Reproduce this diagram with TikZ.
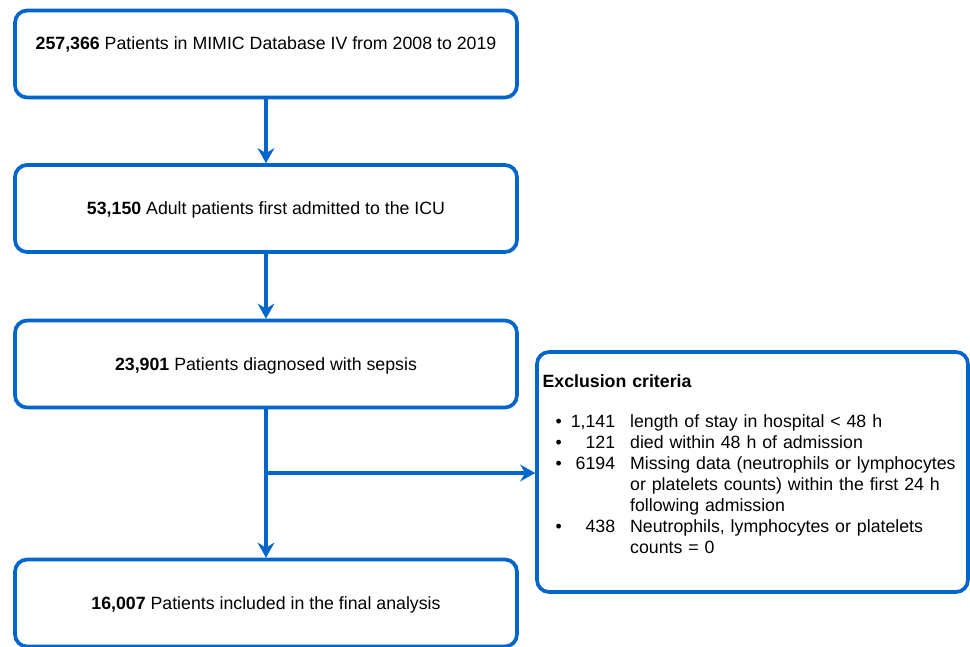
\documentclass[tikz,border=0pt]{standalone}
\usepackage{fontspec}
\setmainfont{Liberation Sans}
\usetikzlibrary{arrows.meta}
\definecolor{flowblue}{RGB}{0,102,204}

\tikzset{
  flowbox/.style={draw=flowblue, line width=2.1pt, rounded corners=0.24cm,
    minimum width=10.04cm, minimum height=1.74cm, text depth=0pt,
    font=\fontsize{10.1pt}{11.9pt}\selectfont},
  exbox/.style={draw=flowblue, line width=2.1pt, rounded corners=0.24cm,
    minimum width=8.62cm, minimum height=4.8cm, inner xsep=0.08cm,
    text width=8.4cm, align=left, font=\fontsize{10.1pt}{11.9pt}\selectfont},
  flowarrow/.style={draw=flowblue, line width=2pt, -{Stealth[length=8.5pt,width=9.5pt]}}
}

\begin{document}
\begin{tikzpicture}[x=0.02cm,y=-0.02cm]
      \useasboundingbox (0,0) rectangle (970,646);

      % main column
      \node[flowbox, text depth=12.5pt] (total) at (266,54)
      {\textbf{257,366} Patients in MIMIC Database IV from 2008 to 2019};
      \node[flowbox] (adult) at (266,208.5)
      {\textbf{53,150} Adult patients first admitted to the ICU};
      \node[flowbox] (sepsis) at (266,364)
      {\textbf{23,901} Patients diagnosed with sepsis};
      \node[flowbox] (final) at (266,603)
      {\textbf{16,007} Patients included in the final analysis};

      % exclusions
      \node[exbox, text height=7.5pt, text depth=104pt] (excl) at (752.5,472)
      {\textbf{Exclusion criteria}\\[11.3pt]
       \begin{tabular}[t]{@{\hspace{0.26cm}}l@{\hspace{0.18cm}}r@{\hspace{0.3cm}}l@{}}
       \textbullet & 1,141 & length of stay in hospital < 48 h\\
       \textbullet & 121 & died within 48 h of admission\\
       \textbullet & 6194 & Missing data (neutrophils or lymphocytes\\
                   &      & or platelets counts) within the first 24 h\\
                   &      & following admission\\
       \textbullet & 438 & Neutrophils, lymphocytes or platelets\\
                   &     & counts = 0
       \end{tabular}};

      \coordinate (split) at (266,473);

      \draw[flowarrow] (total) -- (adult);
      \draw[flowarrow] (adult) -- (sepsis);
      \draw[flowarrow] (sepsis) -- (final);
      \draw[flowarrow] (split) -- (split -| excl.west);

\end{tikzpicture}
\end{document}
